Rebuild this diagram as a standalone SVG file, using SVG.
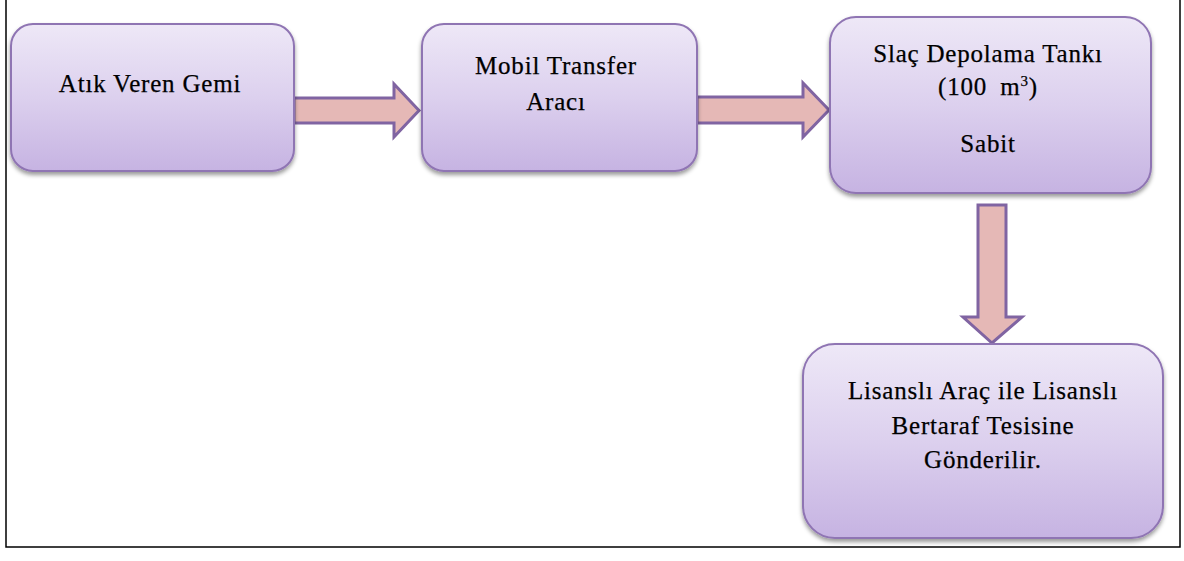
<svg xmlns="http://www.w3.org/2000/svg" width="1184" height="561" viewBox="0 0 1184 561">
  <defs>
    <linearGradient id="boxFill" x1="0" y1="0" x2="0" y2="1">
      <stop offset="0" stop-color="#eee8f7"/>
      <stop offset="0.5" stop-color="#dcd0ee"/>
      <stop offset="1" stop-color="#c6b3e2"/>
    </linearGradient>
    <filter id="shadow" x="-10%" y="-10%" width="120%" height="130%">
      <feDropShadow dx="0" dy="3" stdDeviation="2" flood-color="#000" flood-opacity="0.4"/>
    </filter>
  </defs>
  <style>
    .box { fill: url(#boxFill); stroke: #8f74b3; stroke-width: 2; filter: url(#shadow); }
    .arrow { fill: #e5b8b6; stroke: #8064a2; stroke-width: 3; stroke-linejoin: miter; }
    .label { font-family: 'Liberation Serif', 'DejaVu Serif', serif; font-size: 25px; letter-spacing: 0.8px; fill: #000; stroke: #000; stroke-width: 0.25; text-anchor: middle; }
    .frame { stroke: #000; stroke-width: 1.5; fill: none; }
  </style>
  <rect width="1184" height="561" fill="#fff"/>

  <!-- page frame (open at the top) -->
  <polyline class="frame" points="6,0 6,547 1180,547 1180,0"/>

  <g id="connectors">
    <polygon class="arrow" points="294,98 394,98 394,84 419,110.5 394,137 394,123 294,123"/>
    <polygon class="arrow" points="697,97 803,97 803,83 829,110 803,137 803,123 697,123"/>
    <polygon class="arrow" points="978,205 1006,205 1006,317 1022,317 992,343 963,317 978,317"/>
  </g>

  <g id="node-atik-veren-gemi">
    <rect class="box" x="11" y="24" width="283" height="147" rx="22"/>
    <text class="label" x="150" y="92">Atık Veren Gemi</text>
  </g>

  <g id="node-mobil-transfer">
    <rect class="box" x="422" y="24" width="275" height="147" rx="22"/>
    <text class="label" x="556" y="74">Mobil Transfer</text>
    <text class="label" x="556" y="110">Aracı</text>
  </g>

  <g id="node-slac-depolama">
    <rect class="box" x="830" y="17" width="321" height="176" rx="26"/>
    <text class="label" x="988" y="62">Slaç Depolama Tankı</text>
    <text class="label" x="988" y="95">(100 <tspan dx="6">m</tspan><tspan font-size="15" dy="-9">3</tspan><tspan dy="9">)</tspan></text>
    <text class="label" x="988" y="152">Sabit</text>
  </g>

  <g id="node-lisansli-arac">
    <rect class="box" x="803" y="344" width="360" height="194" rx="32"/>
    <text class="label" x="983" y="399">Lisanslı Araç ile Lisanslı</text>
    <text class="label" x="983" y="434">Bertaraf Tesisine</text>
    <text class="label" x="983" y="468">Gönderilir.</text>
  </g>
</svg>
